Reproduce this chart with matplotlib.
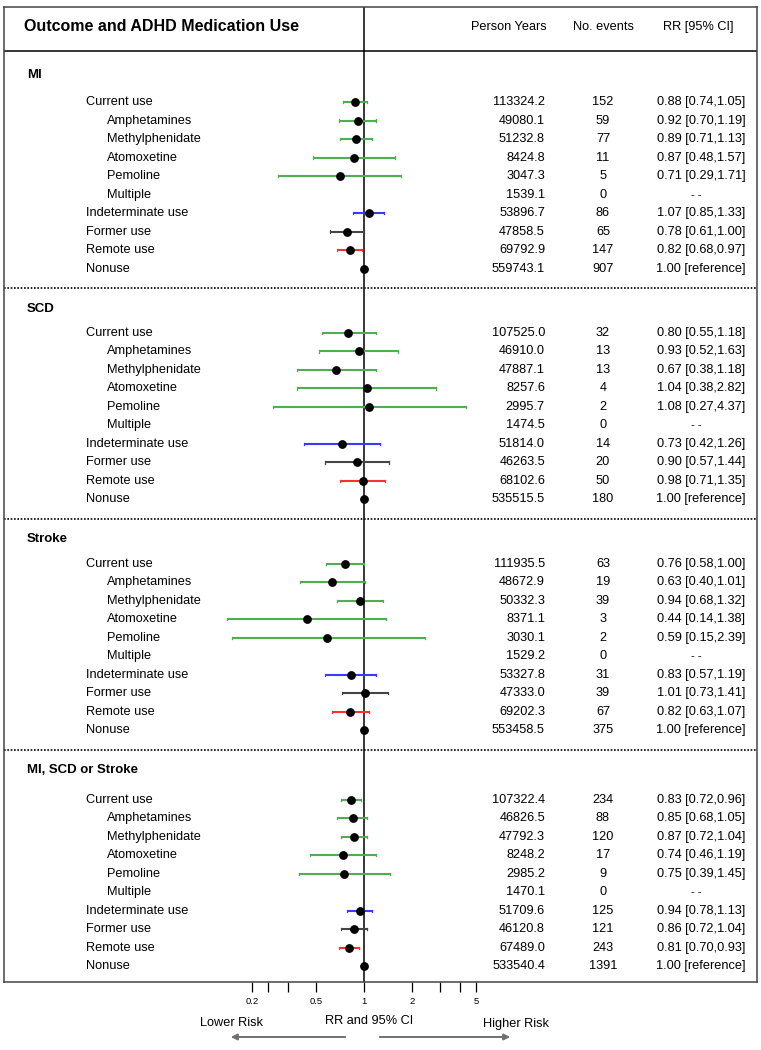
import matplotlib
matplotlib.use("Agg")
import matplotlib.pyplot as plt
from matplotlib.ticker import NullLocator
import matplotlib.transforms as mtransforms

plt.rcParams['font.family'] = ['Liberation Sans', 'DejaVu Sans']

# data
outcomes = ["MI", "SCD", "Stroke", "MI, SCD or Stroke"]
row_labels = ["Current use", "Amphetamines", "Methylphenidate", "Atomoxetine", "Pemoline",
              "Multiple", "Indeterminate use", "Former use", "Remote use", "Nonuse"]
indent = [0, 1, 1, 1, 1, 1, 0, 0, 0, 0]
row_kind = ["cur", "cur", "cur", "cur", "cur", "cur", "ind", "former", "remote", "non"]

person_years = [
    [113324.2, 49080.1, 51232.8, 8424.8, 3047.3, 1539.1, 53896.7, 47858.5, 69792.9, 559743.1],
    [107525.0, 46910.0, 47887.1, 8257.6, 2995.7, 1474.5, 51814.0, 46263.5, 68102.6, 535515.5],
    [111935.5, 48672.9, 50332.3, 8371.1, 3030.1, 1529.2, 53327.8, 47333.0, 69202.3, 553458.5],
    [107322.4, 46826.5, 47792.3, 8248.2, 2985.2, 1470.1, 51709.6, 46120.8, 67489.0, 533540.4],
]
events = [
    [152, 59, 77, 11, 5, 0, 86, 65, 147, 907],
    [32, 13, 13, 4, 2, 0, 14, 20, 50, 180],
    [63, 19, 39, 3, 2, 0, 31, 39, 67, 375],
    [234, 88, 120, 17, 9, 0, 125, 121, 243, 1391],
]
rr = [
    [0.88, 0.92, 0.89, 0.87, 0.71, None, 1.07, 0.78, 0.82, 1.00],
    [0.80, 0.93, 0.67, 1.04, 1.08, None, 0.73, 0.90, 0.98, 1.00],
    [0.76, 0.63, 0.94, 0.44, 0.59, None, 0.83, 1.01, 0.82, 1.00],
    [0.83, 0.85, 0.87, 0.74, 0.75, None, 0.94, 0.86, 0.81, 1.00],
]
lo = [
    [0.74, 0.70, 0.71, 0.48, 0.29, None, 0.85, 0.61, 0.68, None],
    [0.55, 0.52, 0.38, 0.38, 0.27, None, 0.42, 0.57, 0.71, None],
    [0.58, 0.40, 0.68, 0.14, 0.15, None, 0.57, 0.73, 0.63, None],
    [0.72, 0.68, 0.72, 0.46, 0.39, None, 0.78, 0.72, 0.70, None],
]
hi = [
    [1.05, 1.19, 1.13, 1.57, 1.71, None, 1.33, 1.00, 0.97, None],
    [1.18, 1.63, 1.18, 2.82, 4.37, None, 1.26, 1.44, 1.35, None],
    [1.00, 1.01, 1.32, 1.38, 2.39, None, 1.19, 1.41, 1.07, None],
    [0.96, 1.05, 1.04, 1.19, 1.45, None, 1.13, 1.04, 0.93, None],
]
tick_vals = [0.2, 0.25, 1/3, 0.5, 1, 2, 3, 4, 5]
tick_text = ["0.2", "", "", "0.5", "1", "2", "", "", "5"]

ci_colors = {"cur": "#4fae4f", "ind": "#3a3aff", "former": "#454545", "remote": "#ff3030"}

W, H = 761, 1050
fig = plt.figure(figsize=(W / 100, H / 100), dpi=100)
# frame in pixels
fl, fr, ft, fb = 4, 757, 7, 982
ax = fig.add_axes([fl / W, 1 - fb / H, (fr - fl) / W, (fb - ft) / H])
ax.set_xscale('log')
ppd = 160.0  # pixels per decade
x1 = 364
ax.set_xlim(10 ** (-(x1 - fl) / ppd), 10 ** ((fr - x1) / ppd))
rowpx = 18.5
ax.set_ylim((fb - ft) / rowpx, 0)

trans = mtransforms.blended_transform_factory(ax.transAxes, ax.transData)
def xf(px):
    return (px - fl) / (fr - fl)

fs = 9.2
# header
ax.text(xf(24), 1.08, "Outcome and ADHD Medication Use", transform=trans, fontsize=11.5,
        fontweight='bold', va='center', ha='left')
ax.text(xf(547), 1.08, "Person Years", transform=trans, fontsize=fs, va='center', ha='right')
ax.text(xf(603), 1.08, "No. events", transform=trans, fontsize=fs, va='center', ha='center')
ax.text(xf(698), 1.08, "RR [95% CI]", transform=trans, fontsize=fs, va='center', ha='center')
ax.axhline(2.38, color='black', lw=1.1)

top_gap = [2.76, 2.43, 2.43, 2.7]
head_gap = [1.3, 1.13, 1.1, 1.08]
sep = 2.38
for s, name in enumerate(outcomes):
    if s > 0:
        ax.axhline(sep, color='black', lw=1.2, ls=(0, (1, 1)))
    ax.text(xf(27), sep + head_gap[s], name, transform=trans, fontsize=9.5,
            fontweight='bold', va='center', ha='left')
    y0 = sep + top_gap[s]
    for i in range(10):
        y = y0 + i
        ax.text(xf(86 + 21 * indent[i]), y, row_labels[i], transform=trans,
                fontsize=fs, va='center', ha='left')
        ax.text(xf(545), y, "%.1f" % person_years[s][i], transform=trans,
                fontsize=fs, va='center', ha='right')
        ax.text(xf(603), y, str(events[s][i]), transform=trans,
                fontsize=fs, va='center', ha='center')
        if rr[s][i] is None:
            ax.text(xf(696), y, "- -", transform=trans, fontsize=fs - 1, va='center', ha='center')
        else:
            if lo[s][i] is None:
                txt = "%.2f [reference]" % rr[s][i]
            else:
                txt = "%.2f [%.2f,%.2f]" % (rr[s][i], lo[s][i], hi[s][i])
            ax.text(xf(701), y, txt, transform=trans, fontsize=fs, va='center', ha='center')
        if lo[s][i] is not None:
            c = ci_colors[row_kind[i]]
            ax.plot([lo[s][i], hi[s][i]], [y, y], color=c, lw=1.5, solid_capstyle='butt', zorder=3)
            ax.plot([lo[s][i], lo[s][i]], [y - 0.06, y + 0.06], color=c, lw=0.9, zorder=3)
            ax.plot([hi[s][i], hi[s][i]], [y - 0.06, y + 0.06], color=c, lw=0.9, zorder=3)
        if rr[s][i] is not None:
            ax.plot(rr[s][i], y, 'o', color='black', ms=5.3, zorder=4)
    sep = y0 + 9 + 1.05

ax.axvline(1, color='black', lw=1.1, zorder=2)

for sp in ax.spines.values():
    sp.set_linewidth(1.1)
    sp.set_color('#444444')
ax.set_xticks(tick_vals)
ax.set_xticklabels(tick_text)
ax.xaxis.set_minor_locator(NullLocator())
ax.tick_params(axis='x', direction='out', length=7, width=0.9, labelsize=6.8, pad=4)
ax.set_yticks([])

# bottom annotations
fs2 = 9.2
fig.text(231 / W, 1 - 1023 / H, "Lower Risk", fontsize=fs2, ha='center', va='center')
fig.text(369 / W, 1 - 1021 / H, "RR and 95% CI", fontsize=fs2, ha='center', va='center')
fig.text(516 / W, 1 - 1024 / H, "Higher Risk", fontsize=fs2, ha='center', va='center')
arrow_kw = dict(arrowstyle='-|>', color='#707070', lw=1.4, mutation_scale=9)
fig.add_artist(matplotlib.patches.FancyArrowPatch((348 / W, 1 - 1037 / H), (228 / W, 1 - 1037 / H),
                                                  transform=fig.transFigure, **arrow_kw))
fig.add_artist(matplotlib.patches.FancyArrowPatch((377 / W, 1 - 1037 / H), (513 / W, 1 - 1037 / H),
                                                  transform=fig.transFigure, **arrow_kw))

fig.savefig("out.png", dpi=100, facecolor='white')
